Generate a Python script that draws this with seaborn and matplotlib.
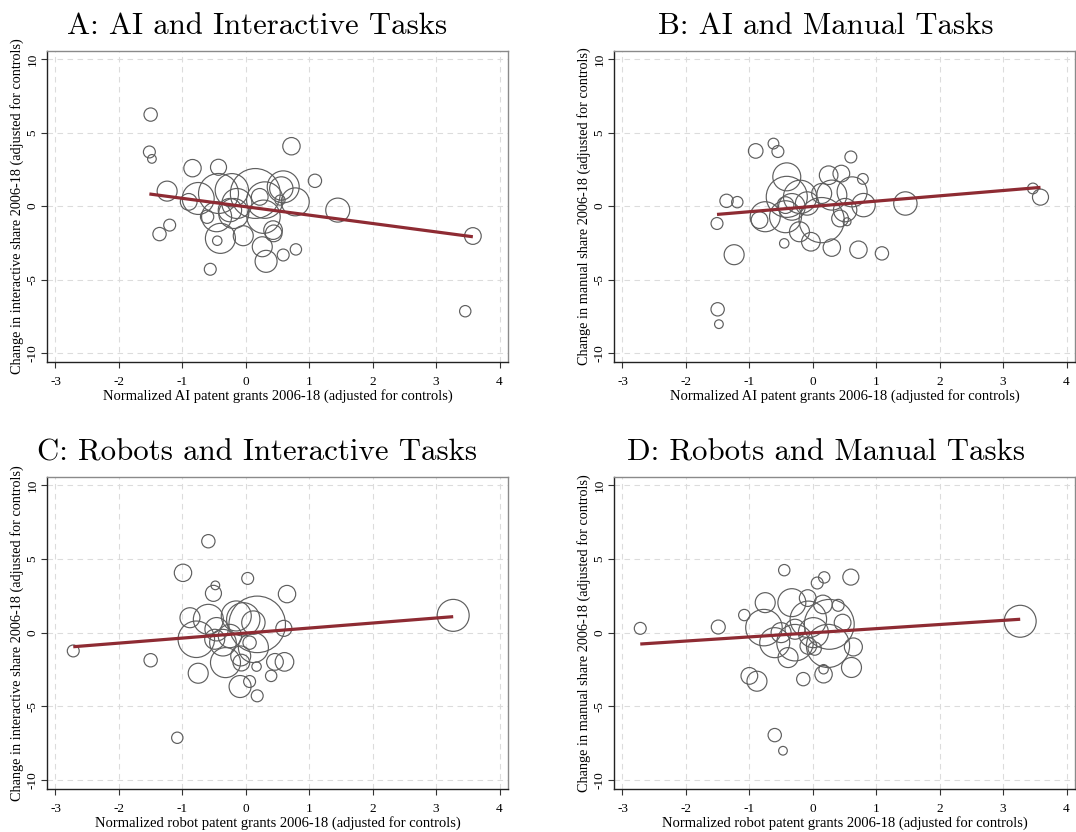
import numpy as np
import pandas as pd
import matplotlib
matplotlib.use("Agg")
import matplotlib.pyplot as plt
import seaborn as sns

sns.set_style("white")
plt.rcParams['font.family'] = ['Liberation Serif', 'DejaVu Serif']
plt.rcParams['axes.unicode_minus'] = False
plt.rcParams['text.color'] = 'black'
plt.rcParams['axes.labelcolor'] = 'black'
plt.rcParams['xtick.color'] = 'black'
plt.rcParams['ytick.color'] = 'black'

# ---------------- data ----------------
titles = ["A: AI and Interactive Tasks", "B: AI and Manual Tasks",
          "C: Robots and Interactive Tasks", "D: Robots and Manual Tasks"]
xlabels = ["Normalized AI patent grants 2006-18 (adjusted for controls)",
           "Normalized AI patent grants 2006-18 (adjusted for controls)",
           "Normalized robot patent grants 2006-18 (adjusted for controls)",
           "Normalized robot patent grants 2006-18 (adjusted for controls)"]
ylabels = ["Change in interactive share 2006-18 (adjusted for controls)",
           "Change in manual share 2006-18 (adjusted for controls)",
           "Change in interactive share 2006-18 (adjusted for controls)",
           "Change in manual share 2006-18 (adjusted for controls)"]
xticks = [-3, -2, -1, 0, 1, 2, 3, 4]
yticks = [-10, -5, 0, 5, 10]

# Panel A
a_x = [-1.50, -1.52, -1.48, -0.84, -0.43, 0.72, 1.09, -1.24, -0.90, -0.75,
       -0.43, -0.22, 0.15, 0.30, 0.59, 0.56, 0.78, 0.22, 0.54, 1.45,
       3.58, 3.46, -1.20, -1.36, -0.56, -0.40, -0.45, -0.04, 0.26, 0.32,
       0.59, 0.79, 0.43, 0.44, -0.61, -0.46, -0.25, -0.19, -0.14, 0.28]
a_y = [6.22, 3.68, 3.21, 2.58, 2.64, 4.07, 1.72, 1.02, 0.29, 0.52,
       0.86, 1.08, 0.86, 0.41, 1.31, 1.20, 0.29, 0.63, 0.41, -0.27,
       -2.03, -7.14, -1.29, -1.90, -4.29, -2.19, -2.35, -2.01, -2.76, -3.75,
       -3.32, -2.94, -1.63, -1.85, -0.72, -0.72, -0.27, -0.50, 0.18, -0.72]
a_w = [4.0, 3.2, 1.7, 6.8, 5.8, 6.8, 4.0, 9.0, 6.3, 23.0,
       36.0, 25.0, 56.0, 30.0, 23.0, 12.3, 17.6, 6.3, 2.3, 13.0,
       6.3, 2.9, 3.2, 4.0, 3.2, 20.3, 2.0, 9.0, 9.0, 10.9,
       3.2, 2.9, 7.8, 6.3, 4.0, 20.3, 12.3, 20.3, 20.3, 25.0]
a_fit = [-0.04, -0.57]   # intercept, slope

# Panel B
b_x = [-0.90, -0.62, -0.55, 0.60, 0.79, -1.36, -1.19, -1.51, -1.24, -1.50,
       -1.48, -0.45, -0.03, 0.30, 0.72, 1.09, 1.46, 3.47, 3.59, -0.41,
       -0.41, -0.20, -0.33, -0.43, -0.75, -0.84, -0.43, -0.21, 0.14, 0.25,
       0.45, 0.30, 0.62, 0.80, 0.51, 0.43, 0.54, 0.14, -0.09]
b_y = [3.75, 4.25, 3.71, 3.34, 1.85, 0.36, 0.27, -1.18, -3.30, -7.01,
       -8.02, -2.53, -2.42, -2.82, -2.96, -3.21, 0.18, 1.20, 0.61, 1.99,
       0.63, 0.63, -0.05, 0.07, -0.72, -0.95, -0.72, -1.74, -0.95, 2.10,
       2.21, 0.75, 0.97, 0.07, -0.27, -0.84, -1.06, 0.86, 0.18]
b_w = [4.8, 2.6, 3.2, 3.2, 2.6, 4.0, 2.9, 3.2, 9.0, 4.0,
       1.7, 2.0, 7.8, 6.8, 6.8, 4.0, 12.3, 2.6, 5.8, 17.6,
       38.0, 25.0, 16.0, 6.3, 20.3, 6.3, 23.0, 9.0, 46.0, 7.8,
       6.3, 20.3, 20.3, 12.3, 12.3, 6.3, 1.4, 9.0, 12.3]
b_fit = [-0.02, 0.36]

# Panel C
c_x = [-0.59, -0.99, 0.03, -0.48, -0.51, 0.65, -0.88, -0.59, -0.78, -0.46,
       -0.15, 0.18, -0.04, 0.12, 0.60, -2.72, -1.50, -0.75, -0.32, -0.08,
       -0.07, 0.17, -0.09, 0.06, 0.18, 0.46, 0.61, 0.40, -1.08, 3.27,
       0.12, -0.36, -0.49, -0.25, 0.06]
c_y = [6.19, 4.05, 3.67, 3.20, 2.66, 2.61, 1.01, 0.90, -0.45, 0.23,
       1.13, 0.56, 0.90, 0.68, 0.29, -1.24, -1.87, -2.75, -2.03, -1.58,
       -2.03, -2.30, -3.65, -3.31, -4.28, -1.98, -1.98, -2.93, -7.12, 1.17,
       -1.01, -0.68, -0.45, -0.23, -0.68]
c_w = [4.0, 6.8, 3.2, 1.7, 5.8, 6.8, 9.0, 20.3, 30.0, 12.3,
       20.3, 72.0, 25.0, 12.3, 5.8, 3.2, 4.0, 9.0, 20.3, 9.0,
       6.3, 2.0, 10.9, 3.2, 3.2, 6.3, 7.8, 2.9, 2.9, 23.0,
       20.3, 16.0, 9.0, 12.3, 4.0]
c_fit = [-0.03, 0.34]

# Panel D
d_x = [-0.45, 0.18, 0.07, 0.60, -0.75, -1.08, -0.33, -0.08, 0.16, 0.40,
       -2.72, -1.49, -0.77, -0.07, 0.26, 0.47, 0.01, -0.50, -0.28, -0.60,
       -0.28, -0.39, 0.24, 0.64, 0.03, -0.07, -1.00, -0.88, -0.15, 0.17,
       0.17, 0.61, 3.27, -0.60, -0.47]
d_y = [4.23, 3.74, 3.36, 3.76, 2.03, 1.19, 2.03, 2.34, 1.91, 1.85,
       0.29, 0.38, 0.34, 0.90, 0.56, 0.68, 0.00, 0.00, 0.23, -0.68,
       -0.68, -1.69, -0.90, -0.97, -1.08, -0.90, -2.93, -3.29, -3.15, -2.82,
       -2.48, -2.36, 0.77, -6.94, -8.00]
d_w = [2.9, 2.9, 3.2, 5.8, 9.0, 2.9, 17.6, 6.3, 7.8, 3.2,
       3.2, 4.4, 30.0, 30.0, 56.0, 6.3, 20.3, 9.0, 9.0, 20.3,
       30.0, 9.0, 42.0, 7.3, 4.0, 6.3, 6.3, 9.0, 4.0, 6.8,
       2.0, 9.0, 23.0, 4.0, 1.7]
d_fit = [-0.01, 0.28]

panels = [(a_x, a_y, a_w, a_fit), (b_x, b_y, b_w, b_fit),
          (c_x, c_y, c_w, c_fit), (d_x, d_y, d_w, d_fit)]

# ---------------- figure ----------------
W, H = 1076, 832
fig = plt.figure(figsize=(W / 100, H / 100), dpi=100)
boxes = [(47, 51, 508, 362), (614, 51, 1075, 362),
         (47, 477, 508, 789), (614, 477, 1075, 789)]
title_cx = [257, 826, 257, 826]

all_w = np.concatenate([np.array(p[2]) for p in panels])
wmin, wmax = all_w.min(), all_w.max()
k = 23.0  # points^2 per weight unit

for i, ((xs, ys, ws, fit), (l, t, r, b)) in enumerate(zip(panels, boxes)):
    ax = fig.add_axes([l / W, 1 - b / H, (r - l) / W, (b - t) / H])
    df = pd.DataFrame({"x": xs, "y": ys, "w": ws})
    sns.scatterplot(data=df, x="x", y="y", size="w",
                    sizes=(k * wmin, k * wmax), size_norm=(wmin, wmax),
                    facecolor="none", edgecolor="#5e5e5e", linewidth=0.85,
                    legend=False, ax=ax, zorder=3)
    xr = np.array([df["x"].min(), df["x"].max()])
    ax.plot(xr, fit[0] + fit[1] * xr, color="#8e2b33", linewidth=2.3,
            solid_capstyle="butt", zorder=4)

    ax.set_xlim(-3.134, 4.134)
    ax.set_ylim(-10.59, 10.54)
    ax.set_xticks(xticks)
    ax.set_yticks(yticks)
    ax.set_xticklabels([str(v) for v in xticks], fontsize=9.5)
    ax.set_yticklabels([str(v) for v in yticks], fontsize=9.5,
                       rotation=90, va="center")
    ax.grid(True, color="#dcdcdc", linestyle=(0, (5, 4)), linewidth=0.8)
    ax.set_axisbelow(True)
    ax.tick_params(axis="both", which="both", bottom=True, left=True,
                   direction="out", length=4, width=0.8, color="#333333")
    ax.tick_params(axis="x", pad=6)
    ax.tick_params(axis="y", pad=2)
    for side in ["left", "bottom"]:
        ax.spines[side].set_color("#222222")
        ax.spines[side].set_linewidth(1.0)
    for side in ["top", "right"]:
        ax.spines[side].set_color("#8a8a8a")
        ax.spines[side].set_linewidth(1.0)
    ax.set_xlabel(xlabels[i], fontsize=10.5, labelpad=1)
    ax.set_ylabel(ylabels[i], fontsize=10.3, labelpad=2)
    ax.set_title(titles[i], fontfamily="cmr10", fontsize=22.2,
                 x=(title_cx[i] - l) / (r - l), pad=12, color="black")

fig.savefig("out.png", dpi=100)
